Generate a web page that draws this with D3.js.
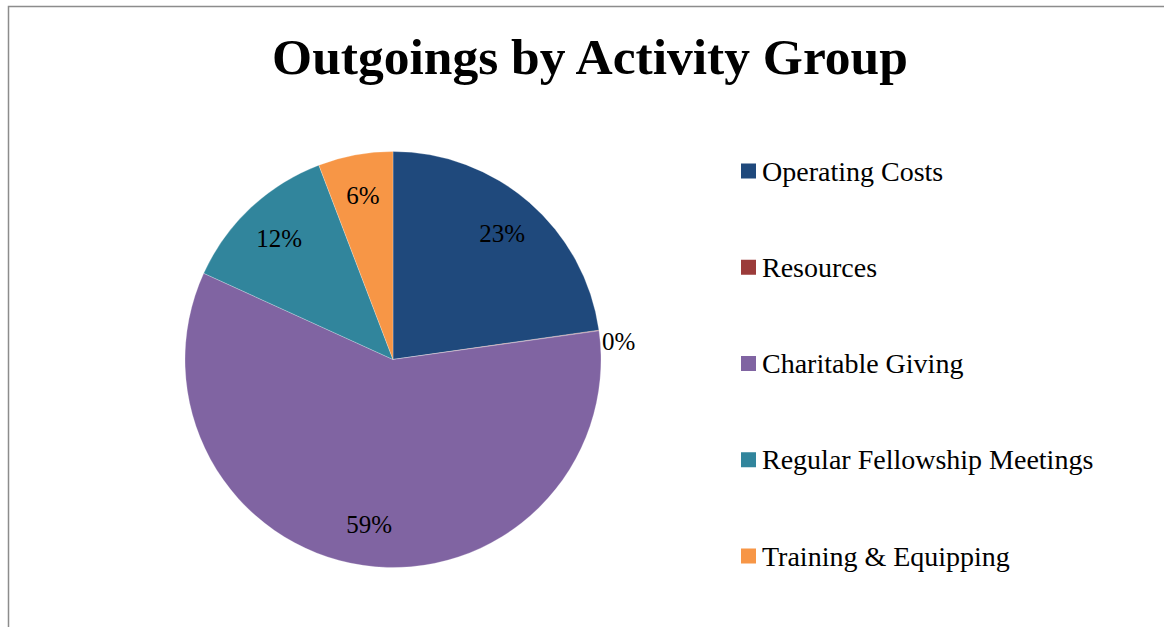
<!DOCTYPE html>
<html><head><meta charset="utf-8">
<script src="https://cdn.jsdelivr.net/npm/d3@7"></script>
<style>body{margin:0;background:#fff}svg{display:block}</style>
</head><body>
<svg id="c" width="1164" height="627"></svg>
<script>
const title = "Outgoings by Activity Group";
const categories = ["Operating Costs","Resources","Charitable Giving","Regular Fellowship Meetings","Training & Equipping"];
const values = [22.75, 0.05, 59.0, 12.4, 5.8];
const colors = ["#1F497C","#9B3B3A","#8064A2","#31859C","#F79646"];

const svg = d3.select("#c");
const font = "'Liberation Serif', 'DejaVu Serif', serif";

svg.append("rect").attr("x",8.5).attr("y",6.5).attr("width",1170).attr("height",640)
  .attr("fill","#fff").attr("stroke","#8c8c8c").attr("stroke-width",1.5);

svg.append("text").attr("x",590).attr("y",74).attr("text-anchor","middle")
  .attr("font-family",font).attr("font-weight","bold").attr("font-size",51.5)
  .attr("fill","#000").text(title);

const cx = 393, cy = 359.5, r = 208;
const total = d3.sum(values);
const pie = d3.pie().sort(null).value(d=>d)(values);
const arc = d3.arc().innerRadius(0).outerRadius(r);
const g = svg.append("g").attr("transform",`translate(${cx},${cy})`);
g.selectAll("path").data(pie).join("path")
  .attr("d",arc).attr("fill",(d,i)=>colors[i])
  .attr("stroke","#fff").attr("stroke-width",0.4).attr("stroke-opacity",0.6);

const labelArc = d3.arc().innerRadius(r*0.8).outerRadius(r*0.8);
pie.forEach((d,i)=>{
  const pct = Math.round(d.value/total*100) + "%";
  const t = g.append("text").attr("font-family",font).attr("font-size",25).attr("fill","#000").text(pct);
  if (d.value/total < 0.01) {
    const a = (d.startAngle+d.endAngle)/2;
    t.attr("x", Math.sin(a)*(r+3)).attr("y", -Math.cos(a)*(r+3)+20).attr("text-anchor","start");
  } else {
    const [x,y] = labelArc.centroid(d);
    t.attr("x",x).attr("y",y).attr("text-anchor","middle").attr("dominant-baseline","central");
  }
});

const ly = d3.scalePoint().domain(categories).range([171, 556]);
const lg = svg.append("g");
categories.forEach((c,i)=>{
  lg.append("rect").attr("x",741).attr("y",ly(c)-7.5).attr("width",15).attr("height",15).attr("fill",colors[i]);
  lg.append("text").attr("x",762).attr("y",ly(c)).attr("dominant-baseline","central")
    .attr("font-family",font).attr("font-size",28).attr("fill","#000").text(c);
});
</script>
</body></html>
